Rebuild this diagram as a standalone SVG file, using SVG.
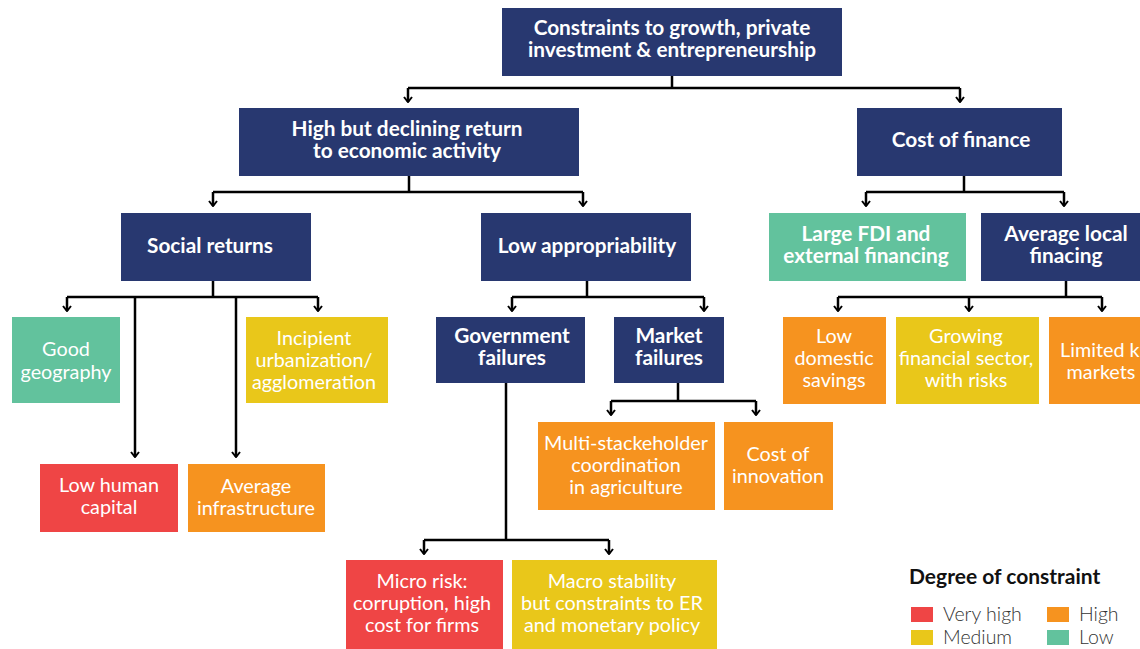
<svg xmlns="http://www.w3.org/2000/svg" width="1140" height="649" viewBox="0 0 1140 649">
<defs>
<marker id="arr" viewBox="-7 -6 8 12" refX="0" refY="0" markerWidth="8" markerHeight="12" markerUnits="userSpaceOnUse" orient="auto">
<path d="M-5,-4 L0,0 L-5,4" fill="none" stroke="#000" stroke-width="2"/>
</marker>
<style>
.navy{fill:#283870}
.teal{fill:#62C29D}
.red{fill:#EF4545}
.orange{fill:#F6931F}
.yellow{fill:#E9C71A}
.tb{font-family:Lato,"Noto Sans",sans-serif;font-weight:700;font-size:20.8px;fill:#fff;text-anchor:middle}
.tr{font-family:Lato,"Noto Sans",sans-serif;font-weight:400;font-size:19.8px;fill:#fff;text-anchor:middle}
.ln{stroke:#000;stroke-width:2.5;fill:none}
.ar{stroke:#000;stroke-width:2.5;fill:none;marker-end:url(#arr)}
.lg{font-family:Lato,"Noto Sans",sans-serif;font-size:19.5px;fill:#333;font-weight:300}
.lgt{font-family:Lato,"Noto Sans",sans-serif;font-size:21px;fill:#111;font-weight:700}
</style>
</defs>
<rect width="1140" height="649" fill="#fff"/>
<g id="connectors">
<path class="ln" d="M672,76 V88 M408,88 H960"/>
<path class="ar" d="M408,88 V102"/>
<path class="ar" d="M960,88 V102"/>
<path class="ln" d="M409,176 V192 M213,192 H583"/>
<path class="ar" d="M213,192 V206"/>
<path class="ar" d="M583,192 V206"/>
<path class="ln" d="M964,176 V192 M866,192 H1064"/>
<path class="ar" d="M866,192 V206"/>
<path class="ar" d="M1064,192 V206"/>
<path class="ln" d="M213,281 V297 M67,297 H318"/>
<path class="ar" d="M67,297 V311"/>
<path class="ar" d="M318,297 V311"/>
<path class="ar" d="M135,297 V457"/>
<path class="ar" d="M236,297 V457"/>
<path class="ln" d="M587,281 V297 M512,297 H704"/>
<path class="ar" d="M512,297 V311"/>
<path class="ar" d="M704,297 V311"/>
<path class="ln" d="M506,383 V540 M424,540 H609"/>
<path class="ar" d="M424,540 V554"/>
<path class="ar" d="M609,540 V554"/>
<path class="ln" d="M678,383 V401 M611,401 H756"/>
<path class="ar" d="M611,401 V415"/>
<path class="ar" d="M756,401 V415"/>
<path class="ln" d="M1066,281 V297 M838,297 H1102"/>
<path class="ar" d="M838,297 V311"/>
<path class="ar" d="M969,297 V311"/>
<path class="ar" d="M1102,297 V311"/>
</g>
<g id="n-root"><rect class="navy" x="502" y="8" width="340" height="68"/><text class="tb" x="672" y="35">Constraints to growth, private</text><text class="tb" x="672" y="57">investment &amp; entrepreneurship</text></g>
<g id="n-high"><rect class="navy" x="239" y="108" width="340" height="68"/><text class="tb" x="407" y="136">High but declining return</text><text class="tb" x="407" y="158">to economic activity</text></g>
<g id="n-cost"><rect class="navy" x="857" y="108" width="205" height="68"/><text class="tb" x="961" y="147">Cost of finance</text></g>
<g id="n-social"><rect class="navy" x="121" y="213" width="190" height="68"/><text class="tb" x="210" y="253">Social returns</text></g>
<g id="n-lowapp"><rect class="navy" x="481" y="213" width="210" height="68"/><text class="tb" x="587" y="253">Low appropriability</text></g>
<g id="n-fdi"><rect class="teal" x="769" y="213" width="197" height="68"/><text class="tb" x="866" y="241">Large FDI and</text><text class="tb" x="866" y="263">external financing</text></g>
<g id="n-avglocal"><rect class="navy" x="981" y="213" width="170" height="68"/><text class="tb" x="1066" y="241">Average local</text><text class="tb" x="1066" y="263">finacing</text></g>
<g id="n-geo"><rect class="teal" x="12" y="317" width="108" height="86"/><text class="tr" x="66" y="356">Good</text><text class="tr" x="66" y="379">geography</text></g>
<g id="n-urban"><rect class="yellow" x="246" y="317" width="142" height="86"/><text class="tr" x="314" y="345">Incipient</text><text class="tr" x="314" y="367">urbanization/</text><text class="tr" x="314" y="389">agglomeration</text></g>
<g id="n-human"><rect class="red" x="40" y="464" width="138" height="68"/><text class="tr" x="109" y="492">Low human</text><text class="tr" x="109" y="514">capital</text></g>
<g id="n-infra"><rect class="orange" x="188" y="464" width="137" height="68"/><text class="tr" x="256" y="493">Average</text><text class="tr" x="256" y="515">infrastructure</text></g>
<g id="n-gov"><rect class="navy" x="436" y="317" width="149" height="66"/><text class="tb" x="512" y="343">Government</text><text class="tb" x="512" y="365">failures</text></g>
<g id="n-market"><rect class="navy" x="614" y="317" width="110" height="66"/><text class="tb" x="669" y="343">Market</text><text class="tb" x="669" y="365">failures</text></g>
<g id="n-multi"><rect class="orange" x="538" y="422" width="177" height="88"/><text class="tr" x="626" y="450">Multi-stackeholder</text><text class="tr" x="626" y="472">coordination</text><text class="tr" x="626" y="494">in agriculture</text></g>
<g id="n-innov"><rect class="orange" x="724" y="422" width="109" height="88"/><text class="tr" x="778" y="461">Cost of</text><text class="tr" x="778" y="483">innovation</text></g>
<g id="n-micro"><rect class="red" x="346" y="560" width="157" height="89"/><text class="tr" x="422" y="588">Micro risk:</text><text class="tr" x="422" y="610">corruption, high</text><text class="tr" x="422" y="632">cost for firms</text></g>
<g id="n-macro"><rect class="yellow" x="512" y="560" width="205" height="89"/><text class="tr" x="612" y="588">Macro stability</text><text class="tr" x="612" y="610">but constraints to ER</text><text class="tr" x="612" y="632">and monetary policy</text></g>
<g id="n-savings"><rect class="orange" x="783" y="317" width="103" height="87"/><text class="tr" x="834" y="343">Low</text><text class="tr" x="834" y="365">domestic</text><text class="tr" x="834" y="387">savings</text></g>
<g id="n-growing"><rect class="yellow" x="896" y="317" width="143" height="87"/><text class="tr" x="966" y="343">Growing</text><text class="tr" x="966" y="365">financial sector,</text><text class="tr" x="966" y="387">with risks</text></g>
<g id="n-limited"><rect class="orange" x="1049" y="317" width="100" height="87"/><text class="tr" x="1060" y="357" style="text-anchor:start">Limited k</text><text class="tr" x="1101" y="379">markets</text></g>
<g id="legend">
<text class="lgt" x="909" y="584">Degree of constraint</text>
<rect class="red" x="911" y="607" width="22" height="15"/><text class="lg" x="943" y="621">Very high</text>
<rect class="yellow" x="911" y="630" width="22" height="15"/><text class="lg" x="943" y="644">Medium</text>
<rect class="orange" x="1047" y="607" width="22" height="15"/><text class="lg" x="1079" y="621">High</text>
<rect class="teal" x="1047" y="630" width="22" height="15"/><text class="lg" x="1079" y="644">Low</text>
</g>
</svg>
